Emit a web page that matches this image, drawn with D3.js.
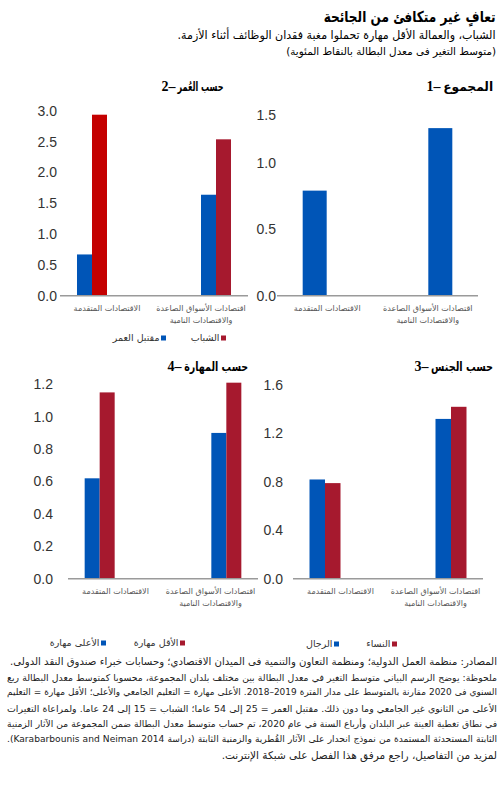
<!DOCTYPE html>
<html><head><meta charset="utf-8">
<script src="https://cdn.jsdelivr.net/npm/d3@7"></script>
<style>
body{margin:0;background:#fff;}
#wrap{position:relative;width:503px;height:790px;overflow:hidden;background:#fff;}
svg{position:absolute;left:0;top:0;}
.t{position:absolute;white-space:nowrap;transform-origin:100% 50%;}
.note{position:absolute;left:7px;width:490px;direction:rtl;font-family:"DejaVu Sans",sans-serif;font-size:10.5px;color:#222;white-space:nowrap;line-height:15px;height:15px;}
</style></head><body><div id="wrap"></div>
<script>
// ---------- DATA ----------
const categories = ["الاقتصادات المتقدمة", "اقتصادات الأسواق الصاعدة"];
const categoryLines = [["الاقتصادات المتقدمة"], ["اقتصادات الأسواق الصاعدة", "والاقتصادات النامية"]];

const totalValues = [0.79, 1.26];

const ageSeries = ["مقتبل العمر", "الشباب"];
const agePrime = [0.67, 1.64];
const ageYouth = [2.94, 2.54];

const genderSeries = ["الرجال", "النساء"];
const menValues = [0.82, 1.32];
const womenValues = [0.79, 1.42];

const skillSeries = ["الأعلى مهارة", "الأقل مهارة"];
const highSkill = [0.62, 0.90];
const lowSkill = [1.15, 1.21];

const totalTicks = [0, 0.5, 1.0, 1.5];
const ageTicks = [0, 0.5, 1.0, 1.5, 2.0, 2.5, 3.0];
const genderTicks = [0, 0.4, 0.8, 1.2, 1.6];
const skillTicks = [0, 0.2, 0.4, 0.6, 0.8, 1.0, 1.2];

const panelNumbers = ["1–", "2–", "3–", "4–"];
const panelNames = ["المجموع", "حسب العُمر", "حسب الجنس", "حسب المهارة"];
const mainTitle = "تعافٍ غير متكافئ من الجائحة";
const subTitle = "الشباب، والعمالة الأقل مهارة تحملوا مغبة فقدان الوظائف أثناء الأزمة.";
const unitTitle = "(متوسط التغير فى معدل البطالة بالنقاط المئوية)";
const noteLines = [
  "المصادر: منظمة العمل الدولية؛ ومنظمة التعاون والتنمية فى الميدان الاقتصادي؛ وحسابات خبراء صندوق النقد الدولى.",
  "ملحوظة: يوضح الرسم البياني متوسط التغير في معدل البطالة بين مختلف بلدان المجموعة، محسوبا كمتوسط معدل البطالة ربع",
  "السنوي فى 2020 مقارنة بالمتوسط على مدار الفترة \u20662018–2019\u2069. الأعلى مهارة = التعليم الجامعي والأعلى؛ الأقل مهارة = التعليم",
  "الأعلى من الثانوي غير الجامعي وما دون ذلك. مقتبل العمر = 25 إلى 54 عاما؛ الشباب = 15 إلى 24 عاما. ولمراعاة التغيرات",
  "في نطاق تغطية العينة عبر البلدان وأرباع السنة في عام 2020، تم حساب متوسط معدل البطالة ضمن المجموعة من الآثار الزمنية",
  "الثابتة المستحدثة المستمدة من نموذج انحدار على الآثار القُطرية والزمنية الثابتة (دراسة Karabarbounis and Neiman 2014).",
  "لمزيد من التفاصيل، راجع مرفق هذا الفصل على شبكة الإنترنت."
];

// ---------- STYLE ----------
const BLUE = "#0055b7", RED = "#a6192e", RED_BRIGHT = "#c40000";
const NUM_FONT = "'Liberation Sans', Arial, sans-serif";
const AR_FONT = "'DejaVu Sans', sans-serif";
const TITLE_FONT = "'Liberation Serif', 'DejaVu Sans', serif";
const RLM = "\u200F";

const wrap = d3.select("#wrap");
const svg = wrap.append("svg").attr("width", 503).attr("height", 790);

// HTML text, right edge at `right`, vertically centred on `cy`; optionally squeezed to `maxW`
function htmlText(txt, o) {
  const lh = Math.round(o.size * 1.4);
  const d = wrap.append("div").attr("class", "t").attr("dir", o.dir || "rtl")
    .style("right", (503 - o.right) + "px").style("top", (o.cy - lh / 2) + "px")
    .style("line-height", lh + "px").style("font-size", o.size + "px")
    .style("font-family", o.font || AR_FONT).style("font-weight", o.weight || "normal")
    .style("color", o.color || "#000").text(txt);
  let w = d.node().getBoundingClientRect().width;
  if (o.maxW && w > o.maxW) { d.style("transform", `scaleX(${o.maxW / w})`); w = o.maxW; }
  d.node()._w = w;
  return d;
}

htmlText(mainTitle, {right: 496, cy: 17, size: 15, weight: "bold", maxW: 172});
htmlText(subTitle, {right: 496, cy: 35, size: 11.5, maxW: 318});
htmlText(unitTitle, {right: 496, cy: 51, size: 10.4, maxW: 240});

function drawPanel(cfg) {
  const g = svg.append("g");
  const y = d3.scaleLinear().domain(cfg.domain).range(cfg.yRange);
  const gx = d3.scalePoint().domain(categories).range([cfg.x0, cfg.x1]).padding(cfg.pad);
  const lx = d3.scaleBand().domain(categories).range([cfg.x0, cfg.x1]);
  const n = cfg.series.length;
  const inner = d3.scaleBand().domain(d3.range(n)).range([-cfg.barW * n / 2, cfg.barW * n / 2]);

  cfg.series.forEach((vals, si) => {
    g.selectAll(null).data(vals).join("rect")
      .attr("x", (d, i) => gx(categories[i]) + inner(si))
      .attr("width", inner.bandwidth())
      .attr("y", d => y(d))
      .attr("height", d => y(0) - y(d))
      .attr("fill", (d, i) => cfg.color(si, i));
  });

  // y tick labels
  const axis = d3.axisLeft(y).tickValues(cfg.ticks).tickFormat(d3.format(".1f")).tickSize(0).tickPadding(0);
  const ag = g.append("g").attr("transform", `translate(${cfg.labelX},0)`).call(axis);
  ag.select(".domain").remove();
  ag.selectAll(".tick").attr("transform", d => `translate(0,${Math.max(y(d), cfg.labelTop)})`);
  ag.selectAll("text").attr("font-family", NUM_FONT).attr("font-size", 14).attr("fill", "#333").attr("x", 0).attr("dy", "0.35em");

  // baseline
  g.append("line").attr("x1", cfg.x0).attr("x2", cfg.x1).attr("y1", y(0)).attr("y2", y(0))
    .attr("stroke", "#9a9a9a").attr("stroke-width", 1.5);

  // category labels
  categoryLines.forEach((lines, ci) => {
    lines.forEach((ln, li) => {
      g.append("text").attr("x", lx(categories[ci]) + lx.bandwidth() / 2)
        .attr("y", y(0) + 15 + li * 12.5).attr("text-anchor", "middle")
        .attr("font-family", AR_FONT).attr("font-size", 8).attr("fill", "#555").text(ln);
    });
  });

  // panel title: Arabic name on the right, number with dash on its left
  const nameDiv = htmlText(cfg.name, {right: cfg.titleX, cy: cfg.titleY, size: 12.5, weight: "bold", font: AR_FONT, maxW: cfg.titleW});
  htmlText(cfg.num, {right: cfg.titleX - nameDiv.node()._w - 2.5, cy: cfg.titleY, size: 14, weight: "bold", font: TITLE_FONT, dir: "ltr"});

  // legend
  if (cfg.legend) {
    cfg.legend.forEach(it => {
      g.append("rect").attr("x", it.sx).attr("y", cfg.legendY - 2.5).attr("width", 5).attr("height", 5).attr("fill", it.color);
      g.append("text").attr("x", it.sx - 1.5).attr("y", cfg.legendY).attr("dy", "0.35em").attr("text-anchor", "end")
        .attr("font-family", AR_FONT).attr("font-size", 9.5).attr("fill", "#333").text(RLM + it.name + RLM);
    });
  }
}

// Panel 1 — total
drawPanel({
  domain: [0, 1], yRange: [295.7, 162.7], x0: 277, x1: 478, pad: 0.3, barW: 24,
  series: [totalValues], color: () => BLUE, ticks: totalTicks, labelX: 276, labelTop: 115,
  num: panelNumbers[0], name: panelNames[0], titleX: 493, titleY: 87, titleW: 50
});
// Panel 2 — age
drawPanel({
  domain: [0, 3], yRange: [295.7, 111], x0: 60, x1: 248, pad: 0.258, barW: 15,
  series: [agePrime, ageYouth], color: (si, i) => si === 0 ? BLUE : (i === 0 ? RED_BRIGHT : RED),
  ticks: ageTicks, labelX: 57, labelTop: 0,
  num: panelNumbers[1], name: panelNames[1], titleX: 224, titleY: 87, titleW: 46,
  legendY: 338,
  legend: [{name: ageSeries[1], color: RED, sx: 221}, {name: ageSeries[0], color: BLUE, sx: 161}]
});
// Panel 3 — gender
drawPanel({
  domain: [0, 1.6], yRange: [578.8, 385], x0: 293, x1: 483, pad: 0.254, barW: 15.5,
  series: [menValues, womenValues], color: (si) => si === 0 ? BLUE : RED,
  ticks: genderTicks, labelX: 283, labelTop: 0,
  num: panelNumbers[2], name: panelNames[2], titleX: 493, titleY: 367, titleW: 62,
  legendY: 644,
  legend: [{name: genderSeries[1], color: RED, sx: 392}, {name: genderSeries[0], color: BLUE, sx: 334}]
});
// Panel 4 — skill
drawPanel({
  domain: [0, 1.2], yRange: [578.8, 384.3], x0: 68, x1: 258, pad: 0.25, barW: 15,
  series: [highSkill, lowSkill], color: (si) => si === 0 ? BLUE : RED,
  ticks: skillTicks, labelX: 53, labelTop: 0,
  num: panelNumbers[3], name: panelNames[3], titleX: 248, titleY: 367, titleW: 64,
  legendY: 643,
  legend: [{name: skillSeries[1], color: RED, sx: 180}, {name: skillSeries[0], color: BLUE, sx: 101}]
});

// notes
noteLines.forEach((t, i) => {
  const d = wrap.append("div").attr("class", "note").style("top", (654 + i * 15.67) + "px");
  const span = d.append("span").text(t);
  const w = span.node().getBoundingClientRect().width;
  const fs = 10.5;
  if (w > 490) d.style("font-size", (fs * 490 / w - 0.05) + "px");
  if (i > 0 && i < noteLines.length - 1) {
    d.style("text-align", "justify").style("text-align-last", "justify").style("white-space", "normal");
  } else {
    d.style("text-align", "right");
  }
});
</script></body></html>
